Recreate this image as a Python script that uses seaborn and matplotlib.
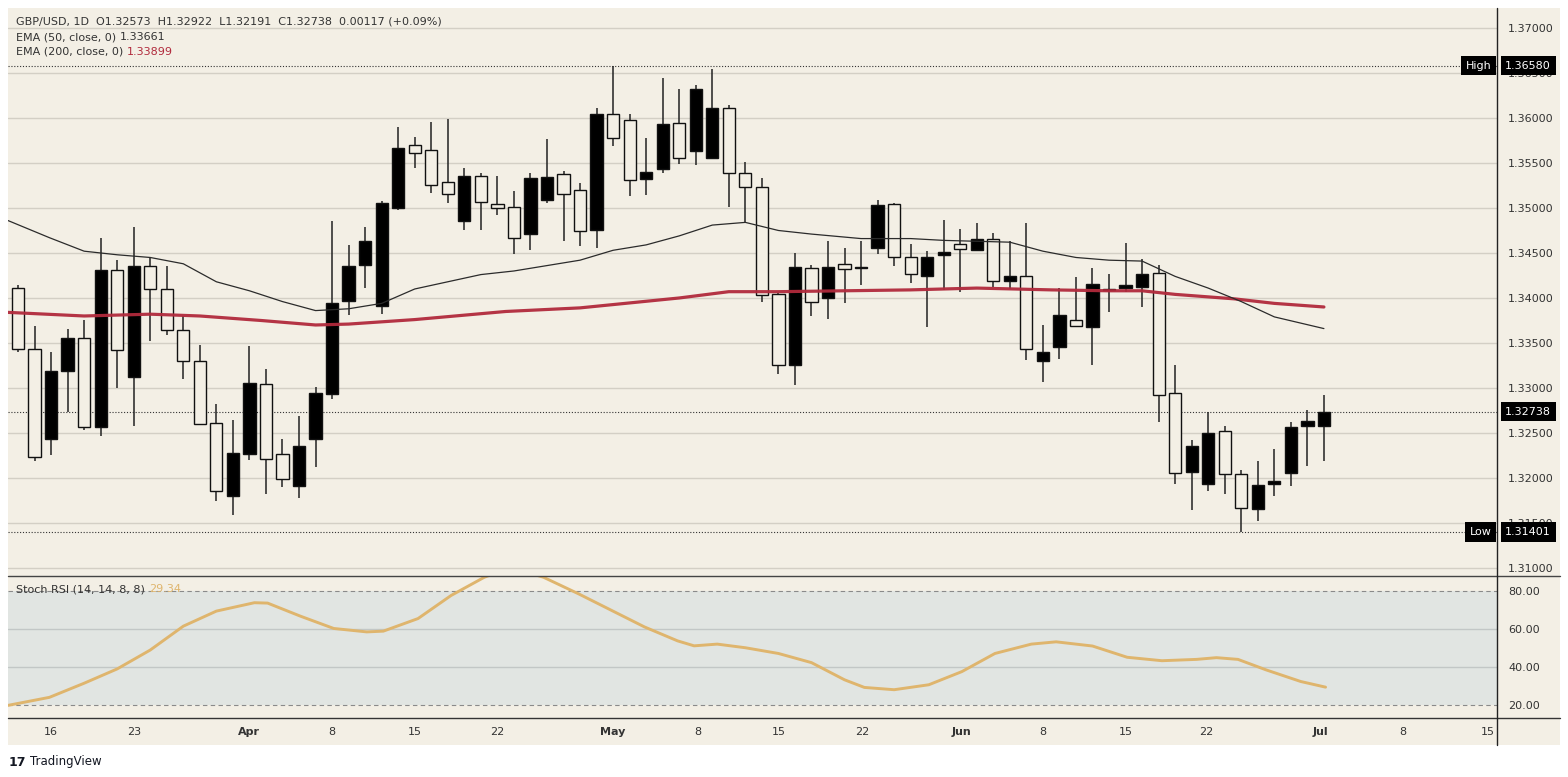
"""
GBP/USD daily candles with EMA 50 / EMA 200 and Stoch RSI panel (TradingView style).
"""

import numpy as np
import pandas as pd
import seaborn as sns
import matplotlib.pyplot as plt
from matplotlib.lines import Line2D
from matplotlib.patches import Rectangle
from matplotlib.transforms import blended_transform_factory

# ---------- DATA
opens = [1.3411, 1.3343, 1.3243, 1.3319, 1.3356, 1.3257, 1.3431, 1.3312, 1.3436, 1.3410,
         1.3364, 1.3330, 1.3261, 1.3180, 1.3227, 1.3304, 1.3227, 1.3191, 1.3243, 1.3293,
         1.3397, 1.3437, 1.3391, 1.3500, 1.3570, 1.3564, 1.3529, 1.3485, 1.3535, 1.3504,
         1.3501, 1.3471, 1.3509, 1.3538, 1.3520, 1.3475, 1.3604, 1.3598, 1.3532, 1.3543,
         1.3594, 1.3563, 1.3555, 1.3611, 1.3539, 1.3523, 1.3404, 1.3325, 1.3433, 1.3400,
         1.3438, 1.3433, 1.3455, 1.3504, 1.3446, 1.3424, 1.3448, 1.3460, 1.3453, 1.3466,
         1.3419, 1.3424, 1.3330, 1.3345, 1.3376, 1.3368, 1.3409, 1.3411, 1.3412, 1.3428,
         1.3294, 1.3207, 1.3193, 1.3252, 1.3204, 1.3166, 1.3193, 1.3206, 1.3258, 1.32573]
highs = [1.3414, 1.3369, 1.3340, 1.3365, 1.3375, 1.3467, 1.3442, 1.3479, 1.3446, 1.3436,
         1.3380, 1.3348, 1.3282, 1.3264, 1.3347, 1.3321, 1.3243, 1.3269, 1.3301, 1.3485,
         1.3459, 1.3479, 1.3508, 1.3590, 1.3579, 1.3595, 1.3599, 1.3544, 1.3539, 1.3536,
         1.3519, 1.3539, 1.3577, 1.3541, 1.3528, 1.3611, 1.3658, 1.3604, 1.3578, 1.3644,
         1.3632, 1.3637, 1.3654, 1.3614, 1.3551, 1.3533, 1.3406, 1.3450, 1.3437, 1.3463,
         1.3455, 1.3463, 1.3509, 1.3506, 1.3460, 1.3452, 1.3487, 1.3477, 1.3483, 1.3472,
         1.3463, 1.3483, 1.3370, 1.3411, 1.3423, 1.3433, 1.3427, 1.3461, 1.3443, 1.3437,
         1.3325, 1.3242, 1.3273, 1.3258, 1.3209, 1.3219, 1.3232, 1.3262, 1.3276, 1.32922]
lows = [1.3340, 1.3219, 1.3226, 1.3273, 1.3253, 1.3247, 1.3300, 1.3258, 1.3352, 1.3359,
        1.3310, 1.3260, 1.3174, 1.3159, 1.3220, 1.3182, 1.3190, 1.3178, 1.3212, 1.3288,
        1.3381, 1.3411, 1.3382, 1.3498, 1.3544, 1.3517, 1.3505, 1.3475, 1.3475, 1.3492,
        1.3449, 1.3453, 1.3506, 1.3463, 1.3458, 1.3455, 1.3569, 1.3513, 1.3514, 1.3539,
        1.3549, 1.3548, 1.3555, 1.3501, 1.3484, 1.3396, 1.3315, 1.3303, 1.3380, 1.3377,
        1.3394, 1.3414, 1.3449, 1.3435, 1.3417, 1.3368, 1.3409, 1.3407, 1.3452, 1.3412,
        1.3410, 1.3331, 1.3307, 1.3332, 1.3368, 1.3325, 1.3384, 1.3407, 1.3390, 1.3262,
        1.3193, 1.3164, 1.3185, 1.3182, 1.3140, 1.3152, 1.3180, 1.3191, 1.3213, 1.32191]
closes = [1.3343, 1.3223, 1.3319, 1.3356, 1.3257, 1.3431, 1.3342, 1.3435, 1.3410, 1.3364,
          1.3330, 1.3260, 1.3186, 1.3228, 1.3306, 1.3221, 1.3199, 1.3236, 1.3294, 1.3394,
          1.3436, 1.3463, 1.3506, 1.3567, 1.3561, 1.3525, 1.3516, 1.3535, 1.3507, 1.3500,
          1.3467, 1.3533, 1.3534, 1.3516, 1.3474, 1.3604, 1.3578, 1.3531, 1.3540, 1.3593,
          1.3555, 1.3632, 1.3611, 1.3539, 1.3523, 1.3403, 1.3325, 1.3434, 1.3396, 1.3434,
          1.3432, 1.3434, 1.3503, 1.3446, 1.3427, 1.3445, 1.3451, 1.3454, 1.3466, 1.3419,
          1.3424, 1.3343, 1.3340, 1.3381, 1.3369, 1.3416, 1.3410, 1.3414, 1.3427, 1.3292,
          1.3206, 1.3235, 1.3250, 1.3204, 1.3167, 1.3192, 1.3197, 1.3257, 1.3263, 1.32738]

ema50_x = [-0.6, 1.9, 4, 6, 8, 10, 12, 14, 16, 18, 20, 22, 24, 26, 28, 30, 32, 34, 36, 38,
           40, 42, 44, 46, 48, 51, 54, 56, 58, 60, 62, 64, 66, 68, 70, 72, 74, 76, 79]
ema50_val = [1.3486, 1.3467, 1.3452, 1.3448, 1.3445, 1.3438, 1.3418, 1.3408, 1.3396, 1.3386,
             1.3388, 1.3394, 1.3410, 1.3418, 1.3426, 1.3430, 1.3436, 1.3442, 1.3453, 1.3459,
             1.3469, 1.3481, 1.3484, 1.3475, 1.3471, 1.3466, 1.3466, 1.3464, 1.3463, 1.3462,
             1.3452, 1.3445, 1.3442, 1.3441, 1.3424, 1.3411, 1.3396, 1.3379, 1.3366]

ema200_x = [-0.6, 4, 8, 11, 14.7, 18, 20, 24, 29.5, 34, 40, 43, 46, 50, 54, 58, 62.5, 66,
            68, 70, 73.6, 76, 79]
ema200_val = [1.3384, 1.3380, 1.3382, 1.3380, 1.3375, 1.3370, 1.3371, 1.3376, 1.3385, 1.3389,
              1.3400, 1.3407, 1.3407, 1.3408, 1.3409, 1.3411, 1.3409, 1.3408, 1.3408, 1.3404,
              1.3399, 1.3394, 1.3390]

stoch_x = [-0.6, 1.9, 4, 6, 8, 10, 12, 14.3, 15.1, 17.1, 19.1, 21.1, 22.1, 24.2, 26.2, 28.2,
           29, 30, 31, 31.8, 33.9, 35.9, 37.9, 39.9, 40.9, 42.3, 44, 46, 48, 50, 51.2, 53,
           55.1, 57.1, 59.1, 61.3, 62.8, 65, 67.1, 69.2, 71.3, 72.5, 73.8, 75.5, 77.6, 79.1]
stoch_val = [19.8, 24.0, 31.4, 38.9, 48.8, 61.3, 69.2, 73.6, 73.4, 66.5, 60.1, 58.3, 58.7,
             65.3, 77.4, 86.9, 89.5, 90.0, 89.0, 86.9, 78.3, 69.6, 60.9, 53.6, 51.0, 51.9,
             50.0, 47.0, 42.2, 33.2, 29.2, 28.0, 30.6, 37.5, 47.0, 51.9, 53.1, 50.9, 45.0,
             43.2, 43.9, 44.8, 43.9, 38.4, 32.3, 29.34]

date_pos = [2.0, 7.0, 14.0, 19.0, 24.0, 29.0, 36.0, 41.1, 46.0, 51.1, 57.1, 62.0, 67.0,
            71.9, 78.8, 83.8, 88.9]
date_labels = ["16", "23", "Apr", "8", "15", "22", "May", "8", "15", "22", "Jun", "8",
               "15", "22", "Jul", "8", "15"]
month_labels = ["Apr", "May", "Jun", "Jul"]

price_ticks = [1.310, 1.315, 1.320, 1.325, 1.330, 1.335, 1.340, 1.345, 1.350, 1.355,
               1.360, 1.365, 1.370]
stoch_ticks = [20, 40, 60, 80]

period_high = 1.36580
period_low = 1.31401
last_close = 1.32738

# ---------- STYLE
sns.set_theme(style="white")
plt.rcParams['font.family'] = ['DejaVu Sans']
CREAM = '#f3efe5'
BAND = '#e1e5e2'
GRID = '#d3cfc5'
TXT = '#333333'
RED = '#b12a3c'
TAN = '#dfb56d'

W, H = 1568, 777
fig = plt.figure(figsize=(W / 100, H / 100), dpi=100, facecolor='white')
fig.add_artist(Rectangle((8 / W, 1 - 745 / H), (1560 - 8) / W, (745 - 8) / H,
                         transform=fig.transFigure, facecolor=CREAM, edgecolor='none', zorder=0))

ax = fig.add_axes([8 / W, 1 - 575 / H, (1497 - 8) / W, (575 - 8) / H])
ax2 = fig.add_axes([8 / W, 1 - 717 / H, (1497 - 8) / W, (717 - 576) / H])
for a in (ax, ax2):
    a.set_facecolor('none')
    for s in a.spines.values():
        s.set_visible(False)
    a.set_xlim(-0.605, 89.47)

# ---------- CANDLES
df = pd.DataFrame({'open': opens, 'high': highs, 'low': lows, 'close': closes})
df['idx'] = np.arange(len(df))
df['bottom'] = df[['open', 'close']].min(axis=1)
df['height'] = (df['close'] - df['open']).abs().clip(lower=0.00006)
df['face'] = np.where(df['close'] >= df['open'], '#000000', CREAM)

ax.vlines(df['idx'], df['low'], df['high'], color='#222222', lw=1.1, zorder=2)
ax.bar(df['idx'], df['height'], bottom=df['bottom'], width=0.74, color=df['face'],
       edgecolor='#111111', linewidth=1.0, zorder=3)

# EMA lines
sns.lineplot(x=ema200_x, y=ema200_val, ax=ax, color=RED, lw=2.3, alpha=0.95, zorder=4)
sns.lineplot(x=ema50_x, y=ema50_val, ax=ax, color='#2b2b2b', lw=0.9, zorder=4)

ax.set_ylim(1.30922, 1.37222)
ax.set_yticks(price_ticks)
ax.set_yticklabels([f"{p:.5f}" for p in price_ticks])
ax.yaxis.tick_right()
ax.tick_params(axis='y', length=0, pad=8, labelsize=8, labelcolor=TXT)
ax.set_xticks([])
ax.grid(axis='y', color=GRID, lw=1)
ax.set_axisbelow(True)

# dotted high / low / last lines
for lvl in (period_high, period_low, last_close):
    ax.axhline(lvl, color='#333333', lw=0.8, ls=(0, (1, 1.6)), zorder=1.5)

trans = blended_transform_factory(ax.transAxes, ax.transData)
box = dict(boxstyle='square,pad=0.42', facecolor='#000000', edgecolor='none')
for name, lvl in (("High", period_high), ("Low", period_low)):
    ax.text(0.9965, lvl, name, transform=trans, ha='right', va='center', fontsize=8,
            color='white', bbox=box, zorder=6, clip_on=False)
for lvl in (period_high, period_low, last_close):
    ax.text(1.0055, lvl, f"{lvl:.5f}", transform=trans, ha='left', va='center', fontsize=8,
            color='white', bbox=box, zorder=6, clip_on=False)

# ---------- STOCH RSI PANEL
ax2.set_ylim(13.7, 87.6)
ax2.axhspan(20, 80, color=BAND, zorder=0.5, lw=0)
for lvl in (40, 60):
    ax2.axhline(lvl, color='#c2c7c6', lw=1, zorder=1)
for lvl in (20, 80):
    ax2.axhline(lvl, color='#8a8a8a', lw=0.8, ls=(0, (4, 3)), zorder=1)
sns.lineplot(x=stoch_x, y=stoch_val, ax=ax2, color=TAN, lw=2.1, zorder=3)

ax2.set_yticks(stoch_ticks)
ax2.set_yticklabels([f"{v:.2f}" for v in stoch_ticks])
ax2.yaxis.tick_right()
ax2.tick_params(axis='y', length=0, pad=8, labelsize=8, labelcolor=TXT)
ax2.set_xticks(date_pos)
ax2.set_xticklabels(date_labels)
ax2.tick_params(axis='x', length=0, pad=7, labelsize=8, labelcolor=TXT)
for lab in ax2.get_xticklabels():
    if lab.get_text() in month_labels:
        lab.set_fontweight('bold')

# ---------- FRAME LINES
fig.add_artist(Line2D([8 / W, 1560 / W], [1 - 575.5 / H, 1 - 575.5 / H], color='#444444', lw=1,
                      transform=fig.transFigure))
fig.add_artist(Line2D([8 / W, 1560 / W], [1 - 717.5 / H, 1 - 717.5 / H], color='#333333', lw=1,
                      transform=fig.transFigure))
fig.add_artist(Line2D([1497 / W, 1497 / W], [1 - 8 / H, 1 - 745 / H], color='#222222', lw=1,
                      transform=fig.transFigure))

# ---------- LEGEND TEXTS
renderer = fig.canvas.get_renderer()


def two_tone(px, py, first, second, color2, size=8):
    t = fig.text(px / W, 1 - py / H, first, fontsize=size, color=TXT, va='center', ha='left')
    bb = t.get_window_extent(renderer)
    fig.text((bb.x1 + 4) / W, 1 - py / H, second, fontsize=size, color=color2,
             va='center', ha='left')


fig.text(16 / W, 1 - 21 / H,
         "GBP/USD, 1D  O1.32573  H1.32922  L1.32191  C1.32738  0.00117 (+0.09%)",
         fontsize=8, color=TXT, va='center', ha='left')
two_tone(16, 37, "EMA (50, close, 0)", "1.33661", TXT)
two_tone(16, 52, "EMA (200, close, 0)", "1.33899", RED)
two_tone(16, 589, "Stoch RSI (14, 14, 8, 8)", "29.34", TAN)

# TradingView mark
fig.text(9 / W, 1 - 762 / H, "17", fontsize=9, fontweight='heavy', color='#131722',
         va='center', ha='left')
fig.text(30 / W, 1 - 762 / H, "TradingView", fontsize=8.5, color='#131722',
         va='center', ha='left')

plt.savefig("out.png", dpi=100, facecolor='white')
